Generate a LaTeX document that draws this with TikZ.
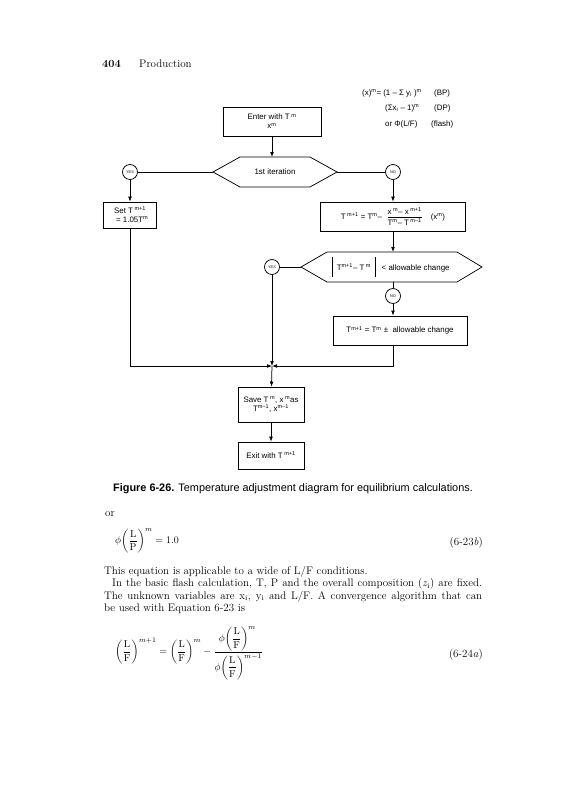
\documentclass[tikz,border=0pt]{standalone}
\usepackage{amsmath}
\usepackage{fontspec}
\newfontfamily\dsans{Liberation Sans}
\usetikzlibrary{arrows.meta}
\newcommand{\supx}[1]{\textsuperscript{#1}}
\newcommand{\vbar}{\rule[-7pt]{0.6pt}{20pt}}
\begin{document}
\begin{tikzpicture}[x=1pt,y=-1pt,
  dfont/.style={font=\dsans\fontsize{7.9}{9}\selectfont},
  box/.style={draw,line width=0.75pt,rectangle,inner sep=1pt,align=center,dfont},
  ring/.style={draw,line width=0.75pt,circle,inner sep=0pt,minimum size=15pt,font=\dsans\fontsize{3.8}{4}\selectfont},
  line/.style={line width=0.75pt},
  arr/.style={line width=0.75pt,-{Latex[length=5pt,width=3.8pt]}},
  note/.style={dfont,anchor=base west,inner sep=0pt},
  body/.style={font=\fontsize{11}{12.5}\selectfont,anchor=base west,inner sep=0pt}]
\useasboundingbox[fill=white] (0,0) rectangle (564,800);

% header
\node[anchor=base west,inner sep=0pt,font=\fontsize{11}{13}\selectfont\bfseries] (pg) at (102,67) {404};
\node[anchor=base west,inner sep=0pt,font=\fontsize{11}{13}\selectfont] (run) at (139,67) {Production};

% annotation
\node[note] (a1) at (362,95) {(x)\supx{m}= (1 – Σ y\textsubscript{i} )\supx{m}};
\node[note] (a1b) at (434,95) {(BP)};
\node[note] (a2) at (385,110) {(Σx\textsubscript{i} – 1)\supx{m}};
\node[note] (a2b) at (434,110) {(DP)};
\node[note] (a3) at (385,126) {or Φ(L/F)};
\node[note] (a3b) at (431,126) {(flash)};

% boxes
\node[box,minimum width=98pt,minimum height=29pt] (enter) at (272,121.5) {Enter with T\supx{ m}\\x\supx{m}};
\node[box,minimum width=53pt,minimum height=26pt] (set) at (130,215) {Set T\supx{ m+1}\\\ \ = 1.05T\supx{m}};
\node[box,minimum width=145pt,minimum height=29pt] (upd) at (393,216.5) {T\supx{ m+1} = T\supx{m}– \ $\dfrac{\text{x\supx{ m}– x\supx{ m+1}}}{\text{T\supx{m}– T\supx{ m–1}}}$\quad (x\supx{m})};
\node[box,minimum width=134pt,minimum height=29pt] (adj) at (400,330.5) {T\supx{m+1} = T\supx{m} ± \ allowable change};
\node[box,minimum width=66pt,minimum height=35pt] (save) at (271,404.5) {Save T\supx{ m}, x\supx{ m}as\\T\supx{m–1}, x\supx{m–1}};
\node[box,minimum width=66pt,minimum height=27pt] (exit) at (271,455.5) {Exit with T\supx{ m+1}};

% hexagon 1
\coordinate (h1l) at (213,172);
\coordinate (h1r) at (337,172);
\coordinate (h1t) at (272,157);
\draw[line] (h1l) -- (240,157) -- (310,157) -- (h1r) -- (310,187) -- (240,187) -- cycle;
\node[dfont] (it1) at (275,172) {1st iteration};

% hexagon 2
\coordinate (h2l) at (301,267);
\coordinate (h2t) at (393,252);
\coordinate (h2b) at (393,282);
\draw[line] (h2l) -- (327,252) -- (457,252) -- (482,267) -- (457,282) -- (327,282) -- cycle;
\node[dfont,anchor=west,inner sep=0pt] (cond) at (332,267) {\vbar\hspace{4pt}T\supx{m+1}– T\supx{ m}\hspace{4pt}\vbar\hspace{6pt}{<} allowable change};

% circles
\node[ring] (yes1) at (130,172) {YES};
\node[ring] (no1) at (393,172) {NO};
\node[ring] (yes2) at (272,267) {YES};
\node[ring] (no2) at (393,296) {NO};
\coordinate (junc) at (272,366);

% connectors
\draw[arr] (enter.south) -- (h1t);
\draw[line] (yes1) -- (h1l);
\draw[line] (h1r) -- (no1);
\draw[arr] (yes1) -- (set);
\draw[arr] (no1) -- (upd);
\draw[arr] (upd) -- (h2t);
\draw[line] (yes2) -- (h2l);
\draw[line] (h2b) -- (no2);
\draw[arr] (no2) -- (no2 |- adj.north);
\draw[arr] (set) |- (junc);
\draw[arr] (adj.south -| no2) |- (junc);
\draw[arr] (yes2) -- (junc);
\draw[arr] (junc) -- (save);
\draw[arr] (save) -- (exit);

% caption
\node[anchor=base west,inner sep=0pt,font=\dsans\fontsize{10.9}{12}\selectfont] (cap) at (113,491) {\textbf{Figure 6-26.} Temperature adjustment diagram for equilibrium calculations.};

% text below
\node[body] (or) at (105,516) {or};
\node[anchor=west,inner sep=0pt] (eq1) at (115,541) {$\phi\!\left(\dfrac{\mathrm{L}}{\mathrm{P}}\right)^{m} = 1.0$};
\node[body,anchor=base east] (eq1n) at (483,545) {(6-23\textit{b})};
\node[body] (p1) at (104,574) {This equation is applicable to a wide of L/F conditions.};
\node[body] (p2) at (112,586.5) {\makebox[370pt][s]{In the basic flash calculation, T, P and the overall composition (\textit{z}\textsubscript{i}) are fixed.}};
\node[body] (p3) at (104,599) {\makebox[378pt][s]{The unknown variables are x\textsubscript{i}, y\textsubscript{i} and L/F. A convergence algorithm that can}};
\node[body] (p4) at (104,611.5) {be used with Equation 6-23 is};
\node[anchor=west,inner sep=0pt] (eq2) at (115,653) {$\left(\dfrac{\mathrm{L}}{\mathrm{F}}\right)^{m+1} = \left(\dfrac{\mathrm{L}}{\mathrm{F}}\right)^{m} - \dfrac{\phi\!\left(\dfrac{\mathrm{L}}{\mathrm{F}}\right)^{m}\rule[-3pt]{0pt}{3pt}}{\rule{0pt}{14pt}\phi\!\left(\dfrac{\mathrm{L}}{\mathrm{F}}\right)^{m-1}}$};
\node[body,anchor=base east] (eq2n) at (483,657) {(6-24\textit{a})};
\end{tikzpicture}
\end{document}
